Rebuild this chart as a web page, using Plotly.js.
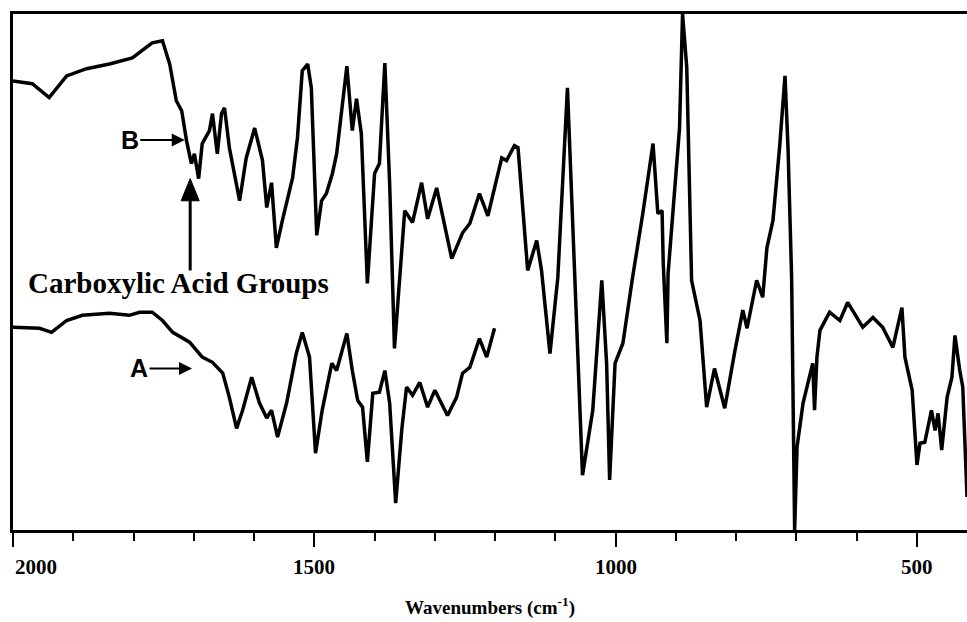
<!DOCTYPE html>
<html>
<head>
<meta charset="utf-8">
<script src="https://cdn.plot.ly/plotly-3.0.1.min.js"></script>
<style>html,body{margin:0;padding:0;background:#fff;}#chart{width:967px;height:622px;}</style>
</head>
<body>
<div id="chart"></div>
<script>
// Spectrum B (upper trace): wavenumber (cm-1) and relative transmittance
var waveB = [2000,1968,1940,1911,1878,1840,1802,1779,1769,1752,1740,1729,1720,1712,1704,1699,1692,1686,1674,1669,1661,1654,1649,1641,1624,1613,1599,1586,1579,1571,1563,1553,1536,1528,1520,1511,1505,1496,1488,1480,1470,1463,1446,1437,1430,1422,1412,1400,1392,1383,1375,1367,1350,1337,1322,1312,1297,1272,1254,1242,1226,1212,1189,1181,1168,1162,1146,1131,1123,1109,1096,1080,1068,1055,1038,1023,1015,1010,1001,988,972,955,938,930,923,921,915,913,894,889,882,874,860,849,836,819,802,789,782,766,756,749,739,728,719,714,708,703,699,689,673,670,666,661,645,628,615,590,573,557,540,525,520,508,500,495,487,476,470,465,459,450,442,437,429,424,417];
var transB = [87.0,86.5,83.8,88.0,89.4,90.3,91.5,93.4,94.4,94.8,90.3,83.2,81.2,75.4,71.0,72.9,68.1,74.9,77.4,80.7,72.9,80.7,81.8,74.1,63.8,72.1,77.9,71.6,62.5,67.3,54.7,60.0,68.3,76.0,89.0,90.3,85.7,57.1,63.8,65.2,69.1,72.9,89.9,77.4,83.6,76.8,47.8,69.1,71.0,90.5,67.1,35.2,61.9,59.6,67.3,60.3,66.3,52.6,57.6,59.4,65.2,60.9,72.1,71.6,74.5,74.1,50.3,56.1,50.3,34.2,48.9,85.7,48.4,10.6,23.2,48.4,32.3,9.7,32.3,36.2,48.9,61.3,74.9,61.3,61.9,51.6,36.2,49.7,77.9,100,89.6,48.4,40.6,23.8,31.3,23.6,34.8,42.6,39.1,48.4,45.1,54.7,60.0,74.1,88.0,74.1,48.9,0,16.1,24.6,32.3,23.2,33.5,38.7,42.2,40.6,44.1,39.3,41.2,39.3,35.4,43.1,33.5,27.1,12.6,16.8,17.0,23.2,19.3,22.6,15.5,25.7,29.6,37.7,30.9,27.7,6.4];

// Spectrum A (lower trace)
var waveA = [2000,1956,1936,1911,1885,1840,1807,1790,1769,1752,1735,1707,1686,1669,1652,1641,1629,1619,1604,1591,1579,1571,1561,1546,1530,1520,1508,1498,1487,1471,1463,1446,1437,1428,1420,1412,1403,1392,1383,1375,1365,1355,1347,1337,1325,1312,1300,1279,1264,1254,1242,1226,1214,1201];
var transA = [39.3,39.1,38.3,40.6,41.6,42.0,41.6,42.2,42.2,40.6,38.3,36.4,33.5,32.5,30.4,25.7,19.7,23.2,29.6,24.6,21.7,23.2,18.0,24.6,34.2,38.3,33.5,14.9,23.2,32.3,30.9,38.1,30.9,25.1,23.8,13.2,26.5,26.7,30.9,24.6,5.2,19.3,27.7,26.1,28.6,23.8,27.1,22.2,25.7,30.4,31.5,37.1,33.5,39.1];

// Axis ticks
var tickVals = [2000,1500,1000,500];
var tickText = ["2000","1500","1000","500"];
var xRange = [2000,417];

var serifBold = "Liberation Serif, Times New Roman, serif";
var sansBold = "Liberation Sans, Arial, sans-serif";

var traces = [
  {x: waveB, y: transB, type: "scatter", mode: "lines", name: "B",
   line: {color: "#000", width: 3.5}, hoverinfo: "skip"},
  {x: waveA, y: transA, type: "scatter", mode: "lines", name: "A",
   line: {color: "#000", width: 3.5}, hoverinfo: "skip"}
];

var annotations = [
  {x: 1715, y: 75.6, ax: -55, ay: 0, text: "<b>B</b>", showarrow: true,
   arrowhead: 2, arrowsize: 1.3, arrowwidth: 2, arrowcolor: "#000",
   font: {family: sansBold, size: 25, color: "#000"}},
  {x: 1703, y: 31.3, ax: -53, ay: 0, text: "<b>A</b>", showarrow: true,
   arrowhead: 2, arrowsize: 1.3, arrowwidth: 2, arrowcolor: "#000",
   font: {family: sansBold, size: 25, color: "#000"}},
  {x: 1726, y: 47.8, text: "<b>Carboxylic Acid Groups</b>", showarrow: false,
   font: {family: serifBold, size: 29, color: "#000"}}
];

tickVals.forEach(function(v, i) {
  annotations.push({
    x: v, xref: "x", y: 0, yref: "paper", yanchor: "middle", yshift: -37,
    xanchor: (v === xRange[0]) ? "left" : "center",
    text: "<b>" + tickText[i] + "</b>", showarrow: false,
    font: {family: serifBold, size: 21, color: "#000"}
  });
});

// Vertical arrow pointing at the carboxylic acid band (shaft + head)
var arrowX = 1706, arrowTip = 68.1, arrowBase = 50.3;
var shapes = [
  {type: "line", xref: "x", yref: "y", x0: arrowX, x1: arrowX, y0: arrowBase, y1: arrowTip - 3.5,
   line: {color: "#000", width: 3}},
  {type: "path", xref: "x", yref: "y",
   path: "M " + arrowX + "," + arrowTip + " L " + (arrowX + 15) + "," + (arrowTip - 4.3) +
         " L " + (arrowX - 15) + "," + (arrowTip - 4.3) + " Z",
   fillcolor: "#000", line: {color: "#000", width: 1}}
];

var layout = {
  width: 967, height: 622,
  margin: {l: 13, r: 0, t: 14, b: 92},
  paper_bgcolor: "#fff", plot_bgcolor: "#fff",
  showlegend: false,
  xaxis: {
    range: xRange, showgrid: false, zeroline: false,
    showline: true, linewidth: 3, linecolor: "#000", mirror: true,
    tickmode: "array", tickvals: tickVals, showticklabels: false,
    ticks: "outside", ticklen: 14, tickwidth: 2, tickcolor: "#000",
    minor: {tickmode: "linear", tick0: 0, dtick: 100, ticks: "outside", ticklen: 8, tickwidth: 2, tickcolor: "#000", showgrid: false},
    title: {text: "<b>Wavenumbers (cm<sup>-1</sup>)</b>", standoff: 55,
            font: {family: serifBold, size: 19, color: "#000"}}
  },
  yaxis: {
    range: [0, 100], showgrid: false, zeroline: false,
    showline: true, linewidth: 3, linecolor: "#000",
    showticklabels: false, ticks: ""
  },
  shapes: shapes,
  annotations: annotations
};

Plotly.newPlot("chart", traces, layout, {staticPlot: true, displayModeBar: false});
</script>
</body>
</html>
